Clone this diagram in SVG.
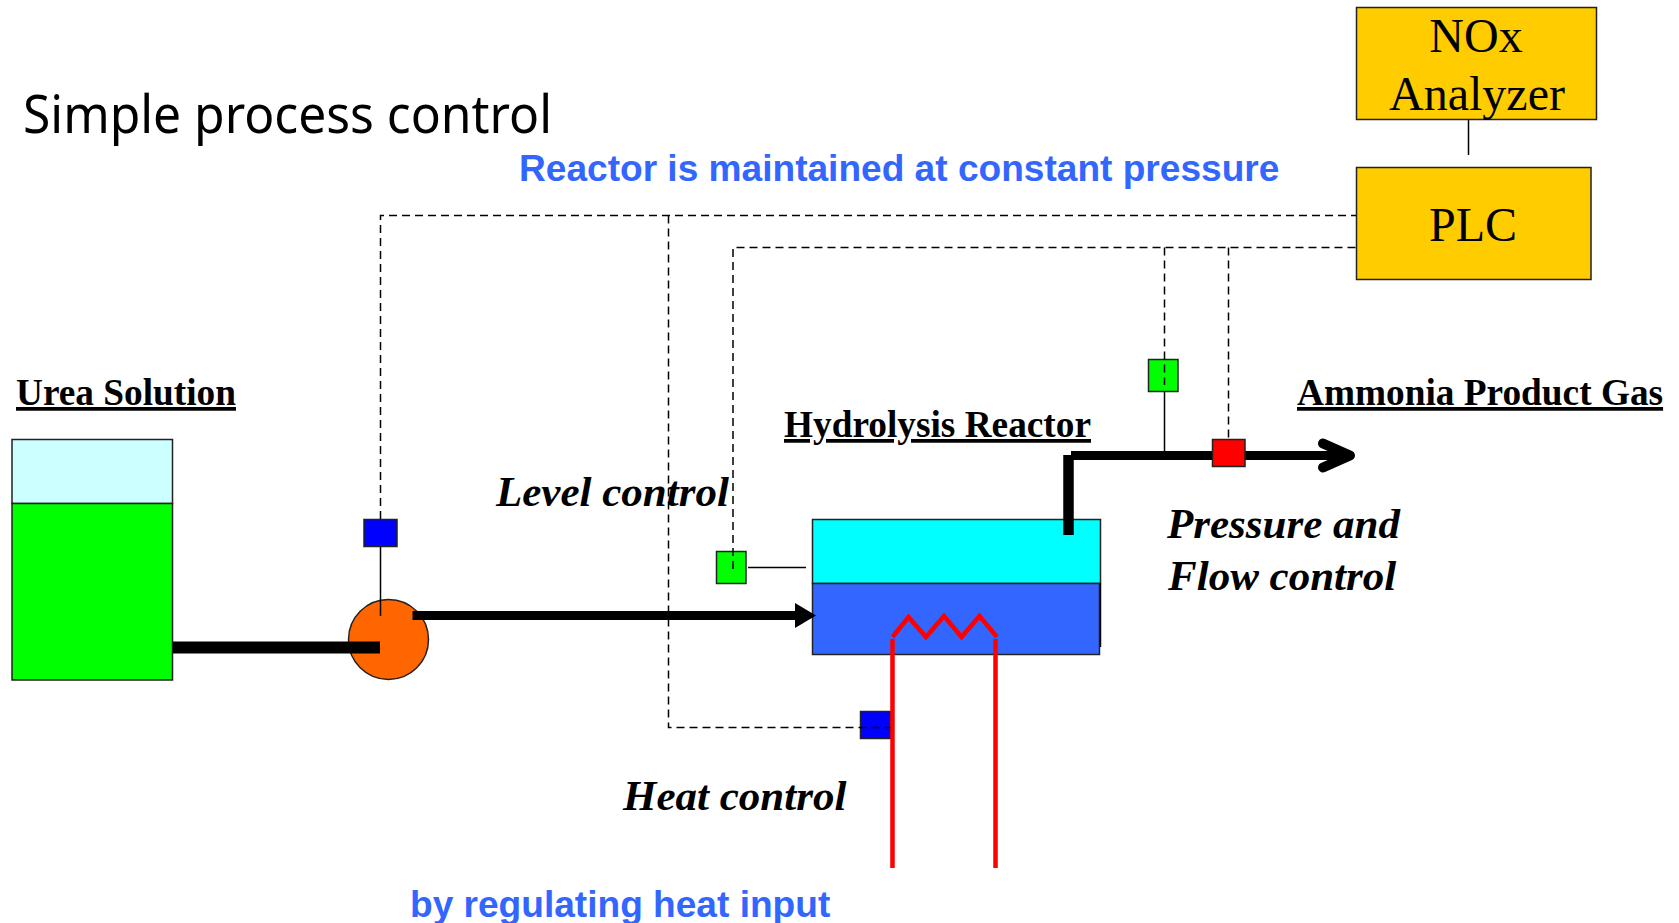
<svg xmlns="http://www.w3.org/2000/svg" width="1679" height="923" viewBox="0 0 1679 923">
<style>
.ser{font-family:"Liberation Serif","Times New Roman",serif;fill:#000}
.lab{font-size:37.3px;font-weight:bold;text-decoration:underline}
.it{font-size:43px;font-weight:bold;font-style:italic}
.box{font-size:48px;text-anchor:middle}
.blue{font-family:"Liberation Sans",Arial,sans-serif;font-weight:bold;font-size:37.1px;fill:#3366ff}
.edge{fill:#000;stroke:none}
.dash{fill:none;stroke:#000;stroke-width:1.5;stroke-dasharray:8 5}
.thin{fill:none;stroke:#000;stroke-width:1.5}
.pipe{fill:none;stroke:#000;stroke-width:9}
.heat{fill:none;stroke:#ff0000;stroke-width:4.5}
.s{stroke:#222;stroke-width:1.5}
</style>
<rect width="1679" height="923" fill="#fff"/>
<text x="23" y="133" font-family="'Noto Sans','Open Sans',sans-serif" font-size="52" textLength="529" lengthAdjust="spacingAndGlyphs">Simple process control</text>
<text class="blue" x="519" y="181">Reactor is maintained at constant pressure</text>
<text class="blue" x="410" y="917">by regulating heat input</text>

<g id="tank">
<rect class="s" x="12" y="439.5" width="160.5" height="64" fill="#ccffff"/>
<rect class="s" x="12" y="503.5" width="160.5" height="176.5" fill="#00ff00"/>
<text class="ser lab" x="16" y="405">Urea Solution</text>
</g>
<g id="pump">
<circle class="s" cx="388.5" cy="639.5" r="40" fill="#ff6600"/>
</g>
<g id="reactor">
<rect class="s" x="812.5" y="519.5" width="288" height="64" fill="#00ffff"/>
<rect class="s" x="812.5" y="583.5" width="287" height="71" fill="#3366ff"/>
<path class="thin" d="M1100.5 583.5V647"/>
<text class="ser lab" x="784" y="437">Hydrolysis Reactor</text>
</g>
<g id="valve-pump"><rect class="s" x="364" y="519.5" width="33" height="27" fill="#0000ff"/></g>
<g id="sensor-level"><rect class="s" x="716.5" y="551.5" width="29.5" height="32" fill="#00ff00"/></g>
<g id="valve-heat"><rect class="s" x="860.5" y="711.5" width="30" height="27" fill="#0000ff"/></g>
<g id="sensor-flow"><rect class="s" x="1148.5" y="359.5" width="29.5" height="32" fill="#00ff00"/></g>

<g id="connectors">
<path class="pipe" d="M173 647.5H380" style="stroke-width:12"/>
<path class="pipe" d="M412.5 615.5H795"/>
<path class="edge" d="M795 603L816 615.5L795 628Z"/>
<path class="pipe" d="M1068.5 535V455" style="stroke-width:10.5"/>
<path class="pipe" d="M1071 455.5H1349"/>
<path class="pipe" d="M1323 443.5L1350 455.5L1323 467.5" style="stroke-linecap:round;stroke-linejoin:round;stroke-width:10"/>
<path class="dash" d="M380.5 519V215.5H1356"/>
<path class="dash" d="M668.5 215.5V727.5H893"/>
<path class="dash" d="M733 569V247.5H1356"/>
<path class="dash" d="M1164.5 247.5V385"/>
<path class="dash" d="M1228.5 247.5V439"/>
<path class="thin" d="M380.5 546.5V616"/>
<path class="thin" d="M748 567.5H806"/>
<path class="thin" d="M1164.5 391.5V451"/>
<path class="thin" d="M1468.5 119V155"/>
<path class="heat" d="M892.5 639V868M995.5 639V868"/>
<path class="heat" d="M892.5 637L908.5 617L926 637L944 616L961.5 637L979.5 616L997 637"/>
</g>
<g id="valve-flow"><rect class="s" x="1212.5" y="439.5" width="32.5" height="27" fill="#ff0000"/></g>
<g id="analyzer">
<rect class="s" x="1356.5" y="7.5" width="240" height="112" fill="#ffcc00"/>
<text class="ser box" x="1476" y="52">NOx</text>
<text class="ser box" x="1477" y="110">Analyzer</text>
</g>
<g id="plc">
<rect class="s" x="1356.5" y="167.5" width="234.5" height="112" fill="#ffcc00"/>
<text class="ser box" x="1473" y="241">PLC</text>
</g>
<text class="ser lab" x="1297" y="405">Ammonia Product Gas</text>
<text class="ser it" x="496" y="506">Level control</text>
<text class="ser it" x="1167" y="538">Pressure and</text>
<text class="ser it" x="1168" y="590">Flow control</text>
<text class="ser it" x="623" y="810">Heat control</text>
</svg>
